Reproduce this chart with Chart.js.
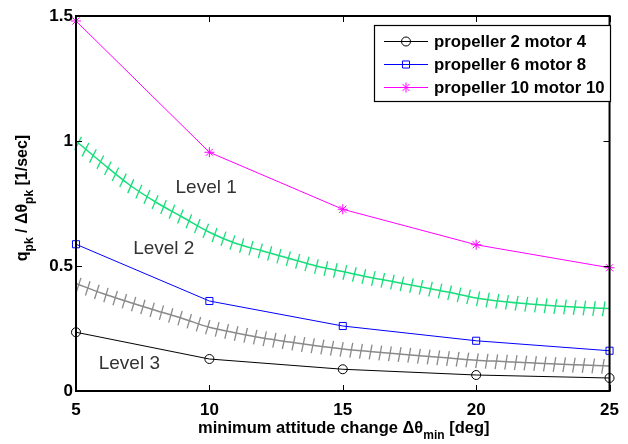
<!DOCTYPE html>
<html>
<head>
<meta charset="utf-8">
<script src="https://cdn.jsdelivr.net/npm/chart.js@4/dist/chart.umd.min.js"></script>
<style>
  html, body { margin: 0; padding: 0; background: #fff; }
  canvas { display: block; }
</style>
</head>
<body>
<canvas id="qpk" width="628" height="444"></canvas>
<script>
// ===== DATA =====
const X_TICKS = [5, 10, 15, 20, 25];
const Y_TICKS = [0, 0.5, 1, 1.5];
const ATT_CHANGE = [5, 10, 15, 20, 25];
const PROP2_MOTOR4 = [0.235, 0.128, 0.087, 0.064, 0.052];
const PROP6_MOTOR8 = [0.587, 0.360, 0.260, 0.201, 0.161];
const PROP10_MOTOR10 = [1.480, 0.955, 0.727, 0.585, 0.493];
const SERIES_NAMES = ['propeller 2 motor 4', 'propeller 6 motor 8', 'propeller 10 motor 10'];

// level boundaries (hatched)
const BOUND_X = [5, 6, 7, 8, 9, 10, 11, 12, 13, 14, 15, 16, 17, 18, 19, 20, 21, 22, 23, 24, 25];
const LEVEL1_BOUND = [1.00, 0.91, 0.825, 0.755, 0.695, 0.635, 0.59, 0.56, 0.53, 0.50, 0.478,
  0.455, 0.435, 0.415, 0.395, 0.372, 0.358, 0.348, 0.340, 0.334, 0.330];
const LEVEL2_BOUND = [0.43, 0.39, 0.355, 0.322, 0.29, 0.255, 0.232, 0.212, 0.196, 0.181, 0.168,
  0.158, 0.149, 0.140, 0.132, 0.123, 0.118, 0.113, 0.108, 0.104, 0.100];

const LEVEL_NAMES = ['Level 1', 'Level 2', 'Level 3'];
const LEVEL_AT = [[9.88, 0.813], [8.29, 0.567], [7.0, 0.11]];

const FONT = '"Liberation Sans", Arial, Helvetica, sans-serif';
const GREEN = '#17de7a';
const GREY = '#8a8a8a';

const pts = (xs, ys) => xs.map((x, i) => ({ x: x, y: ys[i] }));

function series(label, ys, color, style, radius) {
  return {
    label: label, data: pts(ATT_CHANGE, ys),
    borderColor: color, borderWidth: 1, backgroundColor: 'rgba(0,0,0,0)',
    pointStyle: style, pointRadius: radius, pointBorderColor: color,
    pointBorderWidth: 1, pointBackgroundColor: 'rgba(0,0,0,0)',
    tension: 0, clip: false, legend: true
  };
}

function boundary(ys, color) {
  return {
    data: pts(BOUND_X, ys), borderColor: color, borderWidth: 1.5,
    pointRadius: 0, cubicInterpolationMode: 'monotone', hatch: color, clip: false
  };
}

// ===== HATCH TICKS along the boundaries =====
const hatchPlugin = {
  id: 'hatch',
  beforeDatasetsDraw(chart) {
    const ctx = chart.ctx;
    chart.data.datasets.forEach((ds, i) => {
      if (!ds.hatch) return;
      const p = chart.getDatasetMeta(i).data.map(e => ({ x: e.x, y: e.y }));
      ctx.save();
      ctx.strokeStyle = ds.hatch;
      ctx.lineWidth = 1.3;
      const step = 9.7;
      let next = 3;
      let run = 0;
      for (let k = 0; k < p.length - 1; k++) {
        const dx = p[k + 1].x - p[k].x, dy = p[k + 1].y - p[k].y;
        const len = Math.hypot(dx, dy);
        const th = Math.atan2(dy, dx);
        const phi = 0.15 + 0.45 * th;
        while (next <= run + len) {
          const t = (next - run) / len;
          const x = p[k].x + dx * t, y = p[k].y + dy * t;
          ctx.beginPath();
          ctx.moveTo(x - Math.sin(phi) * 8, y + Math.cos(phi) * 8);
          ctx.lineTo(x + Math.sin(phi) * 7, y - Math.cos(phi) * 7);
          ctx.stroke();
          next += step;
        }
        run += len;
      }
      ctx.restore();
    });
  }
};

// text with subscripts, runs = [[text, isSub], ...]
function richText(ctx, runs, x, y, size, subSize) {
  const big = 'bold ' + size + 'px ' + FONT, small = 'bold ' + subSize + 'px ' + FONT;
  let w = 0;
  runs.forEach(r => { ctx.font = r[1] ? small : big; w += ctx.measureText(r[0]).width; });
  let cx = x - w / 2;
  ctx.textAlign = 'left';
  ctx.textBaseline = 'alphabetic';
  runs.forEach(r => {
    ctx.font = r[1] ? small : big;
    ctx.fillText(r[0], cx, r[1] ? y + 6 : y);
    cx += ctx.measureText(r[0]).width;
  });
}

// ===== FRAME, TITLES, LABELS, LEGEND =====
const framePlugin = {
  id: 'frame',
  afterDraw(chart) {
    const ctx = chart.ctx, a = chart.chartArea;
    const xs = chart.scales.x, ys = chart.scales.y;
    ctx.save();
    ctx.strokeStyle = '#000';
    ctx.lineWidth = 2;
    ctx.strokeRect(a.left, a.top, a.right - a.left, a.bottom - a.top);
    ctx.lineWidth = 1;
    ctx.beginPath();
    X_TICKS.forEach(v => {
      const px = Math.round(xs.getPixelForValue(v)) + 0.5;
      ctx.moveTo(px, a.bottom); ctx.lineTo(px, a.bottom - 6);
      ctx.moveTo(px, a.top); ctx.lineTo(px, a.top + 6);
    });
    Y_TICKS.forEach(v => {
      const py = Math.round(ys.getPixelForValue(v)) + 0.5;
      ctx.moveTo(a.left, py); ctx.lineTo(a.left + 6, py);
      ctx.moveTo(a.right, py); ctx.lineTo(a.right - 6, py);
    });
    ctx.stroke();

    // level annotations
    ctx.fillStyle = '#333';
    ctx.font = '19px ' + FONT;
    ctx.textAlign = 'center';
    ctx.textBaseline = 'middle';
    LEVEL_NAMES.forEach((t, i) => {
      ctx.fillText(t, xs.getPixelForValue(LEVEL_AT[i][0]), ys.getPixelForValue(LEVEL_AT[i][1]));
    });

    // axis titles
    ctx.fillStyle = '#000';
    richText(ctx, [['minimum attitude change \u0394\u03b8', false], ['min', true], [' [deg]', false]],
      (a.left + a.right) / 2 + 1, 433, 16.5, 12);
    ctx.save();
    ctx.translate(27, 198);
    ctx.rotate(-Math.PI / 2);
    richText(ctx, [['q', false], ['pk', true], [' / \u0394\u03b8', false], ['pk', true], [' [1/sec]', false]],
      0, 0, 16, 12);
    ctx.restore();

    // legend
    const box = { x: 374.5, y: 25.5, w: 236, h: 76 };
    ctx.fillStyle = '#fff';
    ctx.fillRect(box.x, box.y, box.w, box.h);
    ctx.strokeStyle = '#000';
    ctx.lineWidth = 1.2;
    ctx.strokeRect(box.x, box.y, box.w, box.h);
    const rows = [41.5, 64.5, 87.5];
    chart.data.datasets.filter(d => d.legend).forEach((d, i) => {
      const y = rows[i];
      ctx.strokeStyle = d.borderColor;
      ctx.fillStyle = 'rgba(0,0,0,0)';
      ctx.lineWidth = 1;
      ctx.beginPath();
      ctx.moveTo(384, y); ctx.lineTo(428, y);
      ctx.stroke();
      Chart.helpers.drawPoint(ctx, { pointStyle: d.pointStyle, radius: d.pointRadius, rotation: 0, borderWidth: 1 }, 406, y);
      ctx.fillStyle = '#000';
      ctx.font = 'bold 16.8px ' + FONT;
      ctx.textAlign = 'left';
      ctx.textBaseline = 'middle';
      ctx.fillText(d.label, 434, y + 1);
    });
    ctx.restore();
  }
};

new Chart(document.getElementById('qpk'), {
  type: 'line',
  data: {
    datasets: [
      series(SERIES_NAMES[0], PROP2_MOTOR4, '#000000', 'circle', 4.5),
      series(SERIES_NAMES[1], PROP6_MOTOR8, '#0000ff', 'rect', 5),
      series(SERIES_NAMES[2], PROP10_MOTOR10, '#ff00ff', 'star', 5),
      boundary(LEVEL1_BOUND, GREEN),
      boundary(LEVEL2_BOUND, GREY)
    ]
  },
  options: {
    responsive: false,
    animation: false,
    layout: { padding: { left: 0, top: 16, right: 11, bottom: 0 } },
    plugins: { legend: { display: false }, tooltip: { enabled: false } },
    scales: {
      x: {
        type: 'linear', min: 5, max: 25,
        afterFit: s => { s.height = 53; },
        afterBuildTicks: s => { s.ticks = X_TICKS.map(v => ({ value: v })); },
        grid: { display: false, drawTicks: false },
        border: { display: false },
        ticks: { color: '#000', padding: 9, callback: v => String(v),
          font: { family: FONT, size: 17, weight: 'bold' } }
      },
      y: {
        type: 'linear', min: 0, max: 1.5,
        afterFit: s => { s.width = 76; },
        afterBuildTicks: s => { s.ticks = Y_TICKS.map(v => ({ value: v })); },
        grid: { display: false, drawTicks: false },
        border: { display: false },
        ticks: { color: '#000', padding: 3, callback: v => String(v),
          font: { family: FONT, size: 17, weight: 'bold' } }
      }
    }
  },
  plugins: [hatchPlugin, framePlugin]
});
</script>
</body>
</html>
